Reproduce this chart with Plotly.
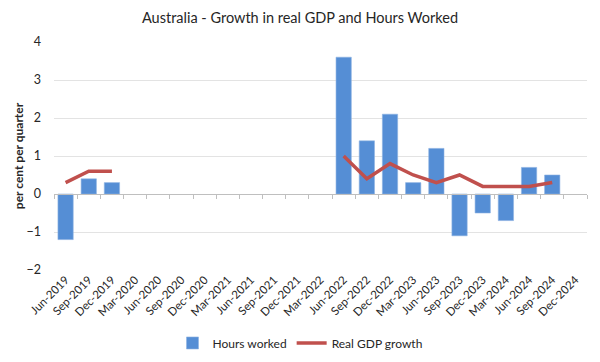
import plotly.graph_objects as go

categories = ["Jun-2019", "Sep-2019", "Dec-2019", "Mar-2020", "Jun-2020", "Sep-2020",
              "Dec-2020", "Mar-2021", "Jun-2021", "Sep-2021", "Dec-2021", "Mar-2022",
              "Jun-2022", "Sep-2022", "Dec-2022", "Mar-2023", "Jun-2023", "Sep-2023",
              "Dec-2023", "Mar-2024", "Jun-2024", "Sep-2024", "Dec-2024"]
hours_worked = [-1.2, 0.4, 0.3, None, None, None, None, None, None, None, None, None,
                3.6, 1.4, 2.1, 0.3, 1.2, -1.1, -0.5, -0.7, 0.7, 0.5, None]
real_gdp = [0.3, 0.6, 0.6, None, None, None, None, None, None, None, None, None,
            1.0, 0.4, 0.8, 0.5, 0.3, 0.5, 0.2, 0.2, 0.2, 0.3, None]
y_ticks = [-2, -1, 0, 1, 2, 3, 4]

FONT = "Lato, Open Sans, sans-serif"
n = len(categories)

fig = go.Figure()
fig.add_trace(go.Bar(x=categories, y=hours_worked, name="Hours worked",
                     marker=dict(color="#558ED5", line=dict(color="#8FB4E3", width=0.6)),
                     width=0.66))
fig.add_trace(go.Scatter(x=categories, y=real_gdp, name="Real GDP growth", mode="lines",
                         line=dict(color="#C0504D", width=3.5), connectgaps=False))
# invisible trace to host the zero axis with boundary ticks
fig.add_trace(go.Scatter(x=[-0.5, n - 0.5], y=[0, 0], xaxis="x2", mode="lines",
                         line=dict(width=0), hoverinfo="skip", showlegend=False))

fig.update_layout(
    width=600, height=362,
    margin=dict(l=54, r=13, t=42, b=92, autoexpand=False),
    paper_bgcolor="white", plot_bgcolor="white",
    font=dict(family=FONT, color="#262626", size=12),
    title=dict(text="Australia - Growth in real GDP and Hours Worked", x=0.5, xanchor="center",
               y=0.95, yanchor="middle", font=dict(size=14.5, family=FONT, color="#262626")),
    showlegend=True,
    legend=dict(orientation="h", xref="container", x=0.5, xanchor="center", y=-0.32,
                yanchor="middle", font=dict(size=12, family=FONT), itemwidth=30,
                traceorder="normal"),
    xaxis=dict(type="category", categoryorder="array", categoryarray=categories,
               range=[-0.5, n - 0.5], tickangle=-45, tickfont=dict(size=11.5),
               showline=False, ticks="", showgrid=False, zeroline=False, automargin=False),
    xaxis2=dict(overlaying="x", anchor="free", position=2 / 6, range=[-0.5, n - 0.5],
                tickvals=[i - 0.5 for i in range(n + 1)], showticklabels=False,
                ticks="outside", ticklen=4, tickcolor="#BFBFBF", showline=True,
                linecolor="#BFBFBF", linewidth=1, showgrid=False, zeroline=False,
                automargin=False),
    yaxis=dict(range=[-2, 4], tickvals=y_ticks, showgrid=True, gridcolor="#E3E3E3",
               zeroline=False, showline=False, tickfont=dict(size=12.5), ticklabelstandoff=12,
               automargin=False,
               title=dict(text="<b>per cent per quarter</b>", font=dict(size=12), standoff=0)),
    bargap=0.34,
)

fig.write_html("out.html", config={"displayModeBar": False},
               post_script="document.body.style.margin='0';")
